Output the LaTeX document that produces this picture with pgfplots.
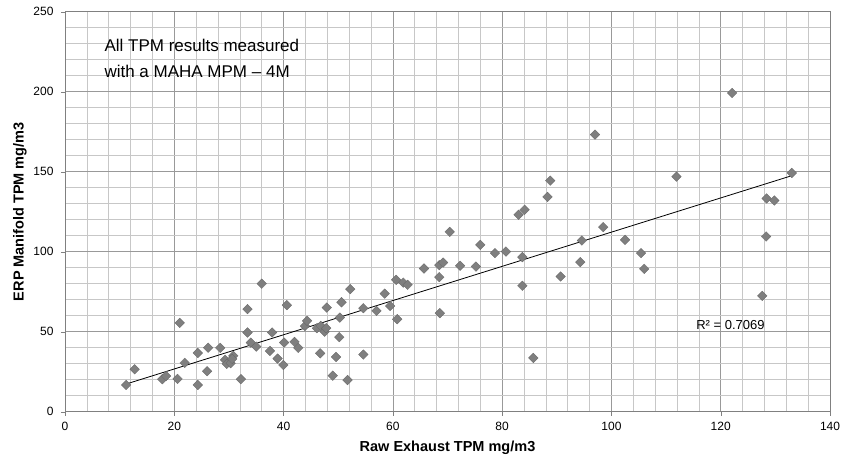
\documentclass[border=0pt]{standalone}
\usepackage{fontspec}
\setmainfont{Liberation Sans}
\usepackage{pgfplots}
\pgfplotsset{compat=1.18}
\definecolor{markgray}{HTML}{7F7F7F}
\begin{document}
\begin{tikzpicture}
\begin{axis}[
 scale only axis, width=765pt, height=400pt,
 xmin=0,xmax=140,ymin=0,ymax=250,
 xtick distance=20, ytick distance=50,
 minor x tick num=4, minor y tick num=4,
 grid=both,
 major grid style={draw=black!40, line width=0.7pt},
 minor grid style={draw=black!22, line width=0.7pt},
 axis line style={draw=black!50},
 tick style={draw=black!50},
 tick align=outside, major tick length=4pt, minor tick length=0pt,
 xtick pos=bottom, ytick pos=left,
 tick label style={font=\fontsize{12}{14}\selectfont},
 xticklabel style={yshift=-3pt},
 yticklabel style={xshift=-4pt},
 /pgf/number format/assume math mode=true,
 xlabel={Raw Exhaust TPM mg/m3},
 ylabel={ERP Manifold TPM mg/m3},
 label style={font=\bfseries\fontsize{14.5}{16}\selectfont},
 xlabel style={at={(axis description cs:0.5,-0.09)}, anchor=center},
 ylabel style={at={(axis description cs:-0.0588,0.5)}, anchor=center},
 clip=false,
]
\addplot[only marks, mark=square*, mark size=3.4pt, mark options={rotate=45, fill=markgray, draw=black!60, line width=0.3pt}] coordinates {
(11.2,16.7)(12.75,26.5)(17.8,20.3)(18.5,22.3)(20.6,20.5)(21.0,55.5)(21.9,30.5)
(24.3,36.7)(24.3,16.7)(26.2,40)(26.0,25.3)(28.4,39.9)(29.3,32.4)(29.6,29.9)
(30.3,30.3)(30.8,34.9)(30.6,33)(32.2,20.3)(33.4,64.1)(33.4,49.5)(34.0,43.2)
(35.0,40.7)(36.0,80)(37.5,38)(37.9,49.5)(38.9,33.2)(39.95,29.2)(40.1,43.2)
(40.6,66.6)(42.0,43.6)(42.7,39.9)(43.9,53.6)(44.3,56.8)(46.1,52.2)(46.8,53.6)
(47.5,50)(47.8,52.2)(46.7,36.5)(47.9,65.1)(49.0,22.5)(49.6,34.2)(50.2,46.6)
(50.3,58.8)(50.6,68.4)(51.7,19.8)(52.2,76.6)(54.6,64.7)(54.6,35.7)(57.0,63)
(58.5,73.8)(59.5,66.1)(60.6,82.4)(60.8,57.8)(61.9,80.7)(62.7,79.3)(65.7,89.5)
(68.5,91.6)(69.2,93.2)(68.5,84.1)(68.6,61.6)(70.4,112.4)(72.3,91.2)(75.2,90.7)
(76.0,104.3)(78.7,99.1)(80.7,100.1)(83.0,123.1)(84.1,126.2)(83.7,96.6)(83.7,78.7)
(85.7,33.6)(88.3,134.2)(88.8,144.4)(90.7,84.5)(97.0,173.2)(98.5,115.4)(94.6,107.0)
(94.3,93.5)(102.5,107.4)(105.4,99.1)(106.0,89.3)(111.9,146.9)(122.1,199.2)
(128.4,133.3)(129.8,132.0)(128.3,109.5)(127.6,72.4)(133.0,149.2)
};
\addplot[black, line width=0.8pt, no marks] coordinates {(11.2,17.3)(133,147.5)};
\node[anchor=base west, font=\fontsize{17}{20}\selectfont, inner sep=0pt] at (axis cs:7.2,225.3) {All TPM results measured};
\node[anchor=base west, font=\fontsize{17}{20}\selectfont, inner sep=0pt] at (axis cs:7.2,208.6) {with a MAHA MPM – 4M};
\node[anchor=base west, font=\fontsize{13}{15}\selectfont, inner sep=0pt] at (axis cs:115.5,51.1) {R² = 0.7069};
\end{axis}
\pgfresetboundingbox
\path (current axis.south west) ++(-65pt,-50.3pt) rectangle ++(845pt,462pt);
\end{tikzpicture}
\end{document}
